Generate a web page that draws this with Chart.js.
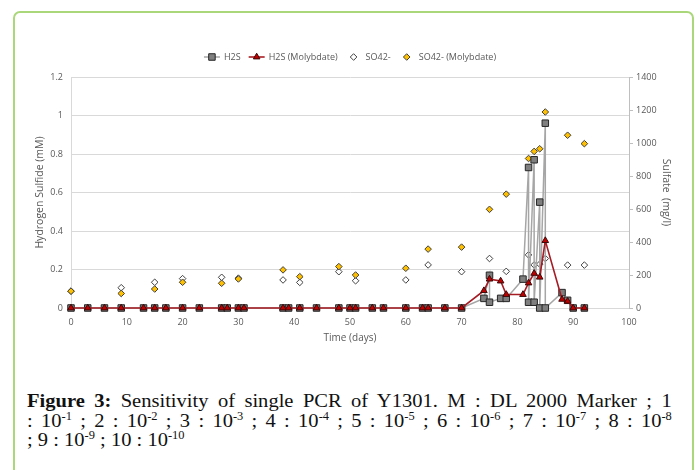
<!DOCTYPE html>
<html>
<head>
<meta charset="utf-8">
<script src="https://cdn.jsdelivr.net/npm/chart.js@4.4.1/dist/chart.umd.min.js"></script>
<style>
  html, body { margin: 0; padding: 0; background: #fff; }
  body { width: 699px; height: 470px; position: relative; overflow: hidden; }
  .frame { position: absolute; left: 13px; top: 11px; width: 681px; height: 480px; border: 2px solid #a9d77a; border-radius: 7px; box-sizing: border-box; }
  .plot { position: absolute; left: 0; top: 0; width: 699px; height: 352px; }
  .caption { position: absolute; left: 27px; top: 391px; width: 597px; transform: scaleX(1.08); transform-origin: left top; font-family: "Liberation Serif", "Times New Roman", serif; font-size: 19px; line-height: 19.5px; color: #111; }
  .caption .j { text-align: justify; text-align-last: justify; }
  .caption sup { font-size: 11.5px; line-height: 0; vertical-align: 7px; }
</style>
</head>
<body>
<div class="frame"></div>
<div class="plot"><canvas id="grafico" width="699" height="352"></canvas></div>
<div class="caption">
  <div class="j"><b>Figure 3:</b> Sensitivity of single PCR of Y1301. M : DL 2000 Marker ; 1</div>
  <div class="j">: 10<sup>-1</sup> ; 2 : 10<sup>-2</sup> ; 3 : 10<sup>-3</sup> ; 4 : 10<sup>-4</sup> ; 5 : 10<sup>-5</sup> ; 6 : 10<sup>-6</sup> ; 7 : 10<sup>-7</sup> ; 8 : 10<sup>-8</sup></div>
  <div>; 9 : 10<sup>-9</sup> ; 10 : 10<sup>-10</sup></div>
</div>
<script>
const diasH2S = [0, 3, 6, 9, 13, 15, 17, 20, 23, 27, 28, 30, 31, 38, 39, 41, 44, 48, 50, 51, 54, 56, 60, 63, 64, 67, 70,
  74, 75, 75, 77, 78, 81, 82, 82, 83, 83, 84, 84, 85, 85, 88, 89, 90, 92];
const h2s = [0, 0, 0, 0, 0, 0, 0, 0, 0, 0, 0, 0, 0, 0, 0, 0, 0, 0, 0, 0, 0, 0, 0, 0, 0, 0, 0,
  0.05, 0.17, 0.03, 0.05, 0.05, 0.15, 0.73, 0.03, 0.77, 0.03, 0.55, 0, 0.96, 0, 0.08, 0.04, 0, 0];

const diasMolib = [0, 3, 6, 9, 13, 15, 17, 20, 23, 27, 28, 30, 31, 38, 39, 41, 44, 48, 50, 51, 54, 56, 60, 63, 64, 67, 70,
  74, 75, 77, 78, 81, 82, 83, 84, 85, 88, 89, 90, 92];
const h2sMolib = [0, 0, 0, 0, 0, 0, 0, 0, 0, 0, 0, 0, 0, 0, 0, 0, 0, 0, 0, 0, 0, 0, 0, 0, 0, 0, 0,
  0.09, 0.15, 0.14, 0.07, 0.07, 0.13, 0.18, 0.16, 0.35, 0.045, 0.035, 0, 0];

const diasSulfato = [0, 9, 15, 20, 27, 30, 38, 41, 48, 51, 60, 64, 70, 75, 78, 82, 83, 84, 85, 89, 92];
const sulfato = [102, 123, 156, 178, 186, 181, 170, 155, 220, 165, 170, 261, 220, 300, 222, 322, 261, 266, 300, 260, 260];
const sulfatoMolib = [102, 88, 115, 156, 150, 176, 231, 190, 251, 200, 241, 357, 369, 598, 690, 906, 949, 965, 1188, 1047, 996];

const ticksEsq = [0, 0.2, 0.4, 0.6, 0.8, 1, 1.2];
const ticksDir = [0, 200, 400, 600, 800, 1000, 1200, 1400];

const fonte = '"Open Sans", "Liberation Sans", sans-serif';
const cinzaTexto = '#595959';

function pontos(xs, ys) {
  let lista = [];
  for (let i = 0; i < xs.length; i++) {
    lista.push({ x: xs[i], y: ys[i] });
  }
  return lista;
}

const legenda = {
  id: 'legendaTopo',
  afterDraw(chart) {
    const ctx = chart.ctx;
    ctx.save();
    ctx.font = '9px ' + fonte;
    ctx.textBaseline = 'middle';
    const simb = 16, gap = 4, espaco = 8;
    const itens = chart.data.datasets.map(ds => ({ ds: ds, w: simb + gap + ctx.measureText(ds.label).width }));
    let total = espaco * (itens.length - 1);
    itens.forEach(it => total += it.w);
    let x = (chart.chartArea.left + chart.chartArea.right) / 2 - total / 2;
    const y = 57;
    itens.forEach(it => {
      const ds = it.ds;
      if (ds.showLine) {
        ctx.strokeStyle = ds.borderColor;
        ctx.lineWidth = ds.borderWidth;
        ctx.beginPath();
        ctx.moveTo(x, y);
        ctx.lineTo(x + simb, y);
        ctx.stroke();
      }
      ctx.fillStyle = ds.pointBackgroundColor;
      ctx.strokeStyle = ds.pointBorderColor;
      ctx.lineWidth = ds.pointBorderWidth;
      Chart.helpers.drawPoint(ctx, { pointStyle: ds.pointStyle, radius: ds.pointRadius, borderWidth: ds.pointBorderWidth, rotation: 0 }, x + simb / 2, y);
      ctx.fillStyle = cinzaTexto;
      ctx.fillText(ds.label, x + simb + gap, y);
      x += it.w + espaco;
    });
    ctx.restore();
  }
};

Chart.defaults.font.family = fonte;

const config = {
  type: 'scatter',
  data: {
    datasets: [
      {
        label: 'H2S',
        data: pontos(diasH2S, h2s),
        yAxisID: 'y',
        showLine: true,
        borderColor: '#a6a6a6',
        borderWidth: 1.5,
        pointStyle: 'rect',
        pointRadius: 4.6,
        pointBackgroundColor: '#7f7f7f',
        pointBorderColor: '#262626',
        pointBorderWidth: 1,
        clip: false,
        order: 2
      },
      {
        label: 'H2S (Molybdate)',
        data: pontos(diasMolib, h2sMolib),
        yAxisID: 'y',
        showLine: true,
        borderColor: '#a61c24',
        borderWidth: 1.6,
        pointStyle: 'triangle',
        pointRadius: 3.8,
        pointBackgroundColor: '#c00000',
        pointBorderColor: '#3a0a0a',
        pointBorderWidth: 1,
        clip: false,
        order: 1
      },
      {
        label: 'SO42-',
        data: pontos(diasSulfato, sulfato),
        yAxisID: 'y2',
        showLine: false,
        pointStyle: 'rectRot',
        pointRadius: 3.3,
        pointBackgroundColor: '#ffffff',
        pointBorderColor: '#404040',
        pointBorderWidth: 1,
        clip: false,
        order: 4
      },
      {
        label: 'SO42- (Molybdate)',
        data: pontos(diasSulfato, sulfatoMolib),
        yAxisID: 'y2',
        showLine: false,
        pointStyle: 'rectRot',
        pointRadius: 3.3,
        pointBackgroundColor: '#ffc000',
        pointBorderColor: '#404040',
        pointBorderWidth: 1,
        clip: false,
        order: 3
      }
    ]
  },
  options: {
    responsive: false,
    animation: false,
    layout: { padding: { left: 30, right: 23, top: 77, bottom: 4 } },
    plugins: { legend: { display: false }, tooltip: { enabled: false } },
    scales: {
      x: {
        type: 'linear', min: 0, max: 100,
        ticks: { stepSize: 10, color: cinzaTexto, font: { size: 9 }, padding: 9 },
        grid: { display: false, drawTicks: false },
        border: { display: true, color: '#d9d9d9' },
        title: { display: true, text: 'Time (days)', color: cinzaTexto, font: { size: 10 }, padding: { top: 2, bottom: 4 } },
        afterFit(s) { s.height = 40; }
      },
      y: {
        position: 'left', min: 0, max: 1.2,
        afterBuildTicks(s) { s.ticks = ticksEsq.map(v => ({ value: v })); },
        ticks: { color: cinzaTexto, font: { size: 9 }, padding: 8, callback: v => String(+v.toFixed(1)) },
        grid: { color: '#d9d9d9', drawTicks: false },
        border: { color: '#d9d9d9' },
        title: { display: true, text: 'Hydrogen Sulfide (mM)', color: cinzaTexto, font: { size: 10.5 }, padding: { top: 4, bottom: 4 } },
        afterFit(s) { s.width = 41; }
      },
      y2: {
        position: 'right', min: 0, max: 1400,
        afterBuildTicks(s) { s.ticks = ticksDir.map(v => ({ value: v })); },
        ticks: { color: cinzaTexto, font: { size: 9 }, padding: 3, callback: v => String(v) },
        grid: { drawOnChartArea: false, drawTicks: true, tickLength: 4, color: '#bfbfbf' },
        border: { color: '#bfbfbf' },
        title: { display: true, text: 'Sulfate  (mg/l)', color: cinzaTexto, font: { size: 10.5 }, padding: { top: 4, bottom: 4 } },
        afterFit(s) { s.width = 47; }
      }
    }
  },
  plugins: [legenda]
};

const myChart = new Chart(document.getElementById('grafico'), config);
</script>
</body>
</html>
